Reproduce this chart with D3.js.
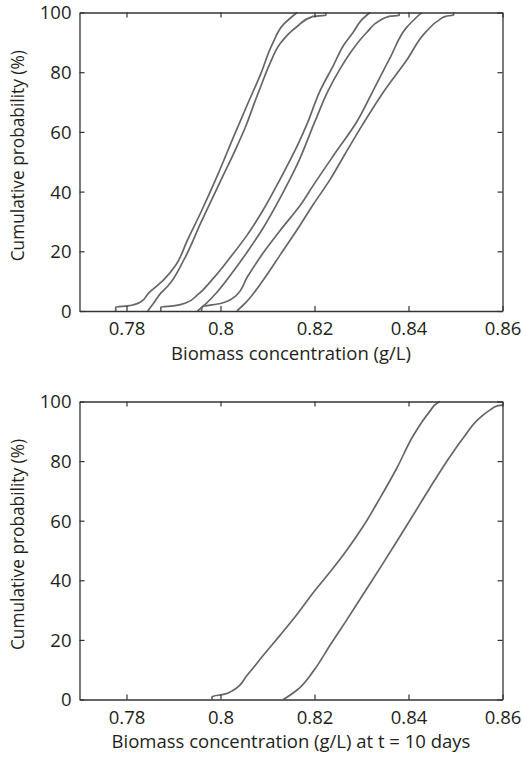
<!DOCTYPE html>
<html>
<head>
<meta charset="utf-8">
<script src="https://cdn.jsdelivr.net/npm/d3@7"></script>
<style>
  html, body { margin: 0; padding: 0; background: #fff; }
  svg { display: block; }
  text { font-family: "Open Sans", "Noto Sans", sans-serif; fill: #231f20; }
</style>
</head>
<body>
<svg id="chart" width="522" height="757"></svg>
<script>
// ---- Data ----
const xTicks = [0.78, 0.80, 0.82, 0.84, 0.86];
const xTickLabels = ["0.78", "0.8", "0.82", "0.84", "0.86"];
const yTicks = [0, 20, 40, 60, 80, 100];
const yTickLabels = ["0", "20", "40", "60", "80", "100"];
const xDomain = [0.77, 0.86];
const yDomain = [0, 100];

// Top panel: six empirical CDF curves (x in g/L, y in %)
const top1X = [0.7777,0.7777,0.7803,0.7830,0.7847,0.7879,0.7905,0.7929,0.7958,0.7994,0.8028,0.8057,0.8085,0.8110,0.8134,0.8163];
const top1Y = [0,1.3,1.7,3.0,6.0,10.4,15.4,23.5,33.0,45.6,58.4,69.1,79.2,89.3,96.0,100];
const top2X = [0.7845,0.7858,0.7873,0.7887,0.7922,0.7958,0.8000,0.8036,0.8055,0.8070,0.8087,0.8106,0.8127,0.8163,0.8197,0.8224,0.8224];
const top2Y = [0,2.7,6.0,8.2,17.1,29.5,43.5,55.5,62.4,68.8,75.8,83.2,89.6,95.3,98.7,99.0,100];
const top3X = [0.7873,0.7873,0.7900,0.7926,0.7951,0.7985,0.8021,0.8057,0.8091,0.8127,0.8163,0.8184,0.8212,0.8240,0.8263,0.8282,0.8299,0.8318];
const top3Y = [0,1.3,1.7,2.7,5.4,11.0,18.0,25.5,33.9,44.2,55.2,62.6,73.8,82.2,89.3,93.3,97.3,100];
const top4X = [0.7951,0.7968,0.7989,0.8021,0.8057,0.8091,0.8127,0.8163,0.8201,0.8228,0.8255,0.8282,0.8311,0.8339,0.8361,0.8380,0.8380];
const top4Y = [0,2.3,5.7,12.0,19.8,27.9,37.9,49.0,63.5,73.5,81.3,87.8,93.3,97.3,98.8,99.0,100];
const top5X = [0.7960,0.7960,0.8000,0.8032,0.8057,0.8091,0.8127,0.8170,0.8197,0.8240,0.8290,0.8324,0.8361,0.8396,0.8428];
const top5Y = [0,1.3,2.5,5.0,11.4,19.5,27.0,35.5,42.0,52.0,63.4,73.6,84.9,95.0,100];
const top6X = [0.8035,0.8053,0.8091,0.8127,0.8163,0.8197,0.8233,0.8265,0.8303,0.8346,0.8396,0.8438,0.8467,0.8479,0.8496,0.8496];
const top6Y = [0,2.7,10.4,18.8,27.2,35.6,44.0,52.6,62.6,73.2,84.0,93.7,97.7,98.7,99.2,100];

// Bottom panel: two curves at t = 10 days
const bot1X = [0.7982,0.7982,0.8007,0.8028,0.8057,0.8092,0.8127,0.8163,0.8198,0.8233,0.8269,0.8304,0.8339,0.8375,0.8410,0.8445,0.8463,0.8467];
const bot1Y = [0,1.0,1.7,3.2,8.2,15.0,21.6,28.6,36.0,42.8,50.2,58.2,67.5,77.6,88.5,96.6,99.7,100];
const bot2X = [0.8134,0.8163,0.8198,0.8233,0.8269,0.8304,0.8339,0.8375,0.8410,0.8445,0.8481,0.8516,0.8551,0.8573,0.8590,0.8599,0.8610];
const bot2Y = [0,3.2,9.6,18.2,26.8,35.4,44.0,53.0,61.9,70.9,79.8,87.7,94.4,97.1,98.6,98.8,99.2];

const panels = [
  { series: [[top1X,top1Y],[top2X,top2Y],[top3X,top3Y],[top4X,top4Y],[top5X,top5Y],[top6X,top6Y]],
    xLabel: "Biomass concentration (g/L)", y0: 311, y1: 12.5 },
  { series: [[bot1X,bot1Y],[bot2X,bot2Y]],
    xLabel: "Biomass concentration (g/L) at t = 10 days", y0: 699.5, y1: 401.5 }
];

const svg = d3.select("#chart");
const left = 79.5, right = 502.5;
const axisColor = "#333";
const lineColor = "#666";
const tickLen = 5;
const fsTick = 18.5, fsX = 18.5, fsY = 17.3;

panels.forEach((p, i) => {
  const x = d3.scaleLinear().domain(xDomain).range([left, right]);
  const y = d3.scaleLinear().domain(yDomain).range([p.y0, p.y1]);
  const g = svg.append("g");

  const clipId = "clip" + i;
  svg.append("clipPath").attr("id", clipId)
    .append("rect").attr("x", left).attr("y", p.y1 - 1).attr("width", right - left).attr("height", p.y0 - p.y1 + 2);

  // curves
  const line = d3.line().x(d => x(d[0])).y(d => y(d[1])).curve(d3.curveMonotoneY);
  p.series.forEach(([xs, ys]) => {
    const pts = xs.map((v, k) => [v, ys[k]]);
    g.append("path").datum(pts)
      .attr("d", line)
      .attr("clip-path", `url(#${clipId})`)
      .attr("fill", "none")
      .attr("stroke", lineColor)
      .attr("stroke-width", 1.7)
      .attr("stroke-linejoin", "round");
  });

  // axes (inward ticks, boxed frame)
  const axB = d3.axisBottom(x).tickValues(xTicks).tickFormat((d, k) => xTickLabels[k]).tickSizeInner(-tickLen).tickSizeOuter(0);
  const axT = d3.axisTop(x).tickValues(xTicks).tickFormat("").tickSizeInner(-tickLen).tickSizeOuter(0);
  const axL = d3.axisLeft(y).tickValues(yTicks).tickFormat((d, k) => yTickLabels[k]).tickSizeInner(-tickLen).tickSizeOuter(0).tickPadding(8);
  const axR = d3.axisRight(y).tickValues(yTicks).tickFormat("").tickSizeInner(-tickLen).tickSizeOuter(0);

  const gb = g.append("g").attr("transform", `translate(0,${p.y0})`).call(axB);
  const gt = g.append("g").attr("transform", `translate(0,${p.y1})`).call(axT);
  const gl = g.append("g").attr("transform", `translate(${left},0)`).call(axL);
  const gr = g.append("g").attr("transform", `translate(${right},0)`).call(axR);

  [gb, gt, gl, gr].forEach(a => {
    a.select(".domain").attr("stroke", axisColor).attr("stroke-width", 1.3);
    a.selectAll(".tick line").attr("stroke", axisColor).attr("stroke-width", 1.2);
    a.selectAll(".tick text").attr("font-size", fsTick).attr("font-family", "Open Sans").attr("fill", "#231f20");
  });
  gb.selectAll(".tick text").attr("y", 24).attr("dy", 0);
  gl.selectAll(".tick text").attr("dy", "0.35em");

  // x axis title
  g.append("text")
    .attr("x", (left + right) / 2)
    .attr("y", p.y0 + 48.5)
    .attr("text-anchor", "middle")
    .attr("font-size", fsX)
    .text(p.xLabel);

  // y axis title
  const cy = (p.y0 + p.y1) / 2 - 6;
  g.append("text")
    .attr("transform", `translate(24,${cy}) rotate(-90)`)
    .attr("text-anchor", "middle")
    .attr("font-size", fsY)
    .text("Cumulative probability (%)");
});
</script>
</body>
</html>
